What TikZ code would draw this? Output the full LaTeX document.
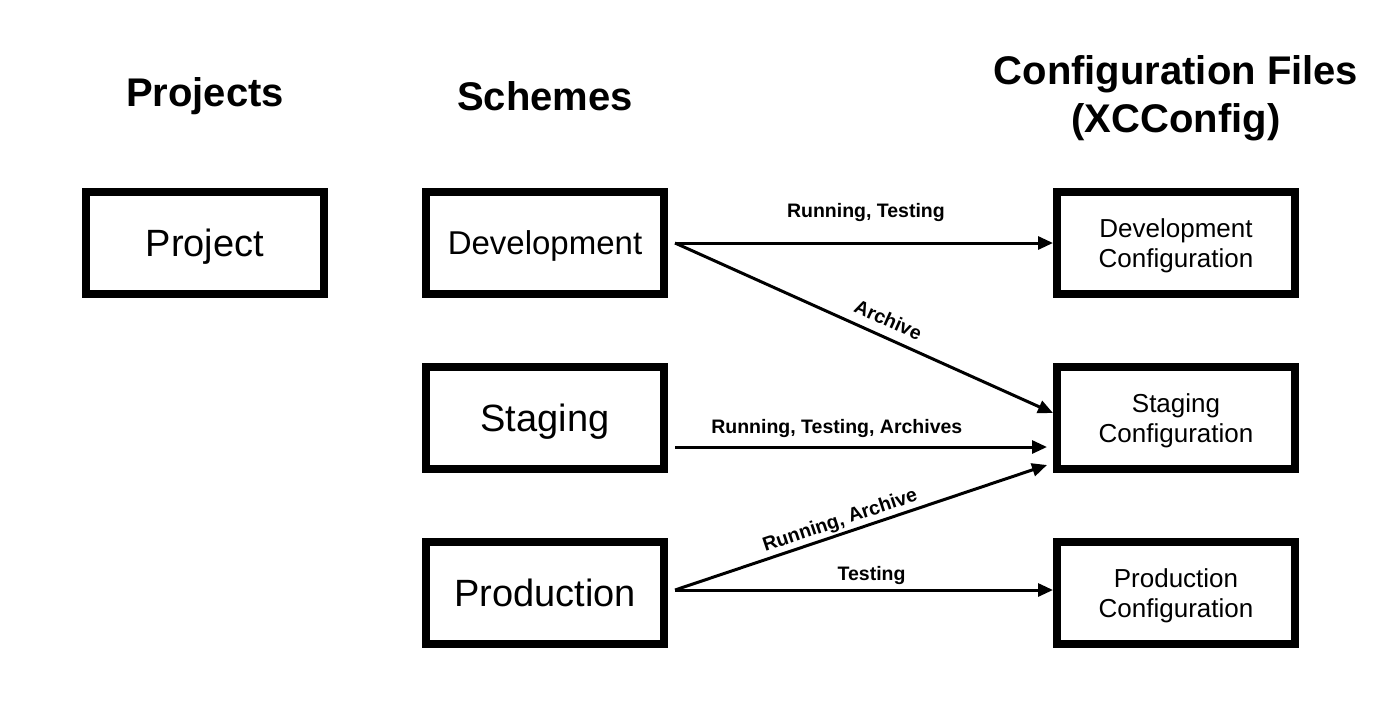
\documentclass[tikz,border=0pt]{standalone}
\usepackage{fontspec}
\setmainfont{Liberation Sans}
\usetikzlibrary{arrows.meta}
\begin{document}
\begin{tikzpicture}[x=1pt,y=-1pt,
  box/.style={draw=black,line width=8pt,minimum width=238pt,minimum height=102pt,inner sep=0pt},
  bigtxt/.style={font=\fontsize{38}{44}\selectfont,text height=27.2pt,text depth=0pt},
  midtxt/.style={font=\fontsize{33}{40}\selectfont,text height=23.6pt,text depth=0pt},
  cfgtxt/.style={font=\fontsize{26}{30}\selectfont,align=center,text height=48.6pt,text depth=0pt},
  title/.style={font=\fontsize{40}{48}\selectfont\bfseries,align=center},
  conn/.style={line width=3pt,-{Triangle[length=15pt,width=13pt]}},
  lbl/.style={font=\fontsize{19.5}{22}\selectfont\bfseries,inner sep=0pt}
]
\useasboundingbox (0,0) rectangle (1400,715);
\fill[white] (0,0) rectangle (1400,715);
% titles
\node[title] (tproj) at (205,96) {Projects};
\node[title] (tsch) at (545,96) {Schemes};
\node[title] (tcfg) at (1176,98.5) {Configuration Files\\(XCConfig)};
% boxes
\node[box,bigtxt] (proj) at (205,243) {Project};
\node[box,midtxt] (dev) at (545,243) {Development};
\node[box,bigtxt] (stg) at (545,418) {Staging};
\node[box,bigtxt] (prd) at (545,593) {Production};
\node[box,cfgtxt] (devc) at (1176,243) {Development\\Configuration};
\node[box,cfgtxt] (stgc) at (1176,418) {Staging\\Configuration};
\node[box,cfgtxt] (prdc) at (1176,593) {Production\\Configuration};
% connectors
\draw[conn] ([xshift=7pt]dev.east) -- node[lbl,pos=0.505,above=20pt] {Running, Testing} (devc.west);
\draw[conn] ([xshift=7pt]dev.east) -- node[lbl,pos=0.545,sloped,above=9pt] {Archive} ([yshift=5pt]stgc.west);
\draw[conn] ([xshift=7pt,yshift=-29pt]stg.east) -- node[lbl,pos=0.435,above=8pt] {Running, Testing, Archives} ([xshift=-6pt,yshift=-29pt]stgc.west);
\draw[conn] ([xshift=7pt,yshift=3pt]prd.east) -- node[lbl,pos=0.455,sloped,above=2pt] {Running, Archive} ([xshift=-6pt,yshift=-47pt]stgc.west);
\draw[conn] ([xshift=7pt,yshift=3pt]prd.east) -- node[lbl,pos=0.52,above=4pt] {Testing} ([yshift=3pt]prdc.west);
\end{tikzpicture}
\end{document}
